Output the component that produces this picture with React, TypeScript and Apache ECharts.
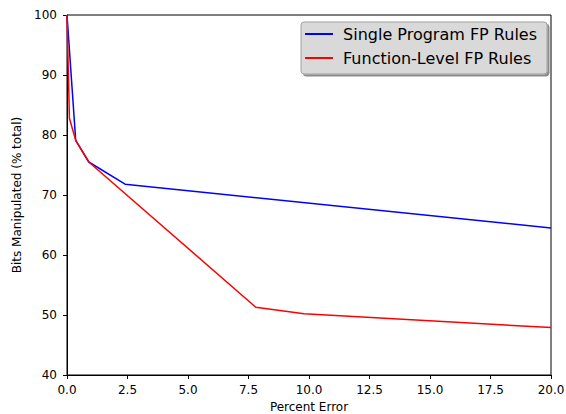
import React, { useEffect, useRef } from "react";
import * as echarts from "echarts";

const seriesNames = ["Single Program FP Rules", "Function-Level FP Rules"];
const singleProgram: [number, number][] = [
  [0, 100],
  [0.36, 79.1],
  [0.9, 75.5],
  [2.4, 71.8],
  [20, 64.5],
];
const functionLevel: [number, number][] = [
  [0, 100],
  [0.1, 82.8],
  [0.36, 79.1],
  [0.9, 75.5],
  [7.8, 51.3],
  [9.8, 50.2],
  [20, 47.9],
];
const xTitle = "Percent Error";
const yTitle = "Bits Manipulated (% total)";

export default function App() {
  const ref = useRef<HTMLDivElement>(null);
  useEffect(() => {
    if (!ref.current) return;
    const chart = echarts.init(ref.current, null, { renderer: "svg" });
    const font = "DejaVu Sans";
    chart.setOption({
      animation: false,
      textStyle: { fontFamily: font },
      grid: {
        left: 67,
        right: 15,
        top: 15,
        bottom: 39,
        outerBoundsMode: "none",
        containLabel: false,
        show: true,
        borderColor: "#000",
        borderWidth: 1,
        backgroundColor: "transparent",
      },
      legend: {
        data: seriesNames.map((n) => ({ name: n, icon: "rect" })),
        orient: "vertical",
        right: 19,
        top: 22,
        itemWidth: 28,
        itemHeight: 2,
        itemGap: 8,
        padding: [4, 10, 8, 4],
        backgroundColor: "#d9d9d9",
        borderColor: "#a0a0a0",
        borderWidth: 1,
        borderRadius: 3,
        shadowColor: "rgba(0,0,0,0.45)",
        shadowOffsetX: 2,
        shadowOffsetY: 2,
        shadowBlur: 0,
        textStyle: { fontFamily: font, fontSize: 16, color: "#000", padding: [0, 0, 0, 5] },
      },
      xAxis: {
        type: "value",
        min: 0,
        max: 20,
        interval: 2.5,
        name: xTitle,
        nameLocation: "middle",
        nameGap: 26,
        nameTextStyle: { fontFamily: font, fontSize: 12, color: "#000" },
        axisLine: { show: true, lineStyle: { color: "#000", width: 1 } },
        axisTick: { show: true, length: 4, lineStyle: { color: "#000" } },
        axisLabel: {
          fontFamily: font,
          fontSize: 12,
          color: "#000",
          margin: 9,
          formatter: (v: number) => v.toFixed(1),
        },
        splitLine: { show: false },
      },
      yAxis: {
        type: "value",
        min: 40,
        max: 100,
        interval: 10,
        name: yTitle,
        nameLocation: "middle",
        nameGap: 42,
        nameRotate: 90,
        nameTextStyle: { fontFamily: font, fontSize: 12, color: "#000" },
        axisLine: { show: true, lineStyle: { color: "#000", width: 1 } },
        axisTick: { show: true, length: 4, lineStyle: { color: "#000" } },
        axisLabel: { fontFamily: font, fontSize: 12, color: "#000", margin: 10 },
        splitLine: { show: false },
      },
      series: [
        {
          name: seriesNames[0],
          type: "line",
          data: singleProgram,
          showSymbol: false,
          symbol: "none",
          lineStyle: { color: "#0000ff", width: 1.5 },
          itemStyle: { color: "#0000ff" },
        },
        {
          name: seriesNames[1],
          type: "line",
          data: functionLevel,
          showSymbol: false,
          symbol: "none",
          lineStyle: { color: "#ff0000", width: 1.5 },
          itemStyle: { color: "#ff0000" },
        },
      ],
    });
    return () => chart.dispose();
  }, []);
  return <div ref={ref} style={{ width: 566, height: 414, position: "absolute", left: 0, top: 0 }} />;
}
